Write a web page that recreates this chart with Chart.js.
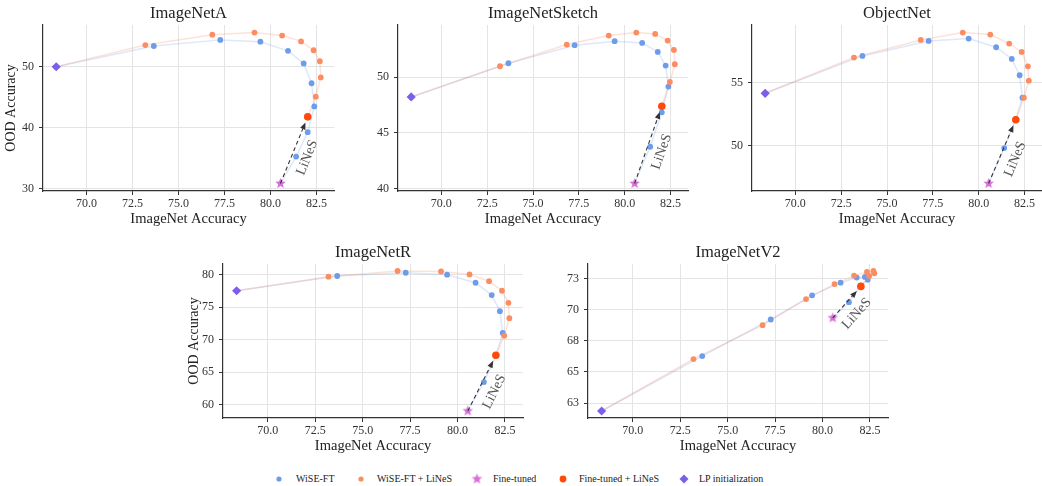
<!DOCTYPE html>
<html>
<head>
<meta charset="utf-8">
<script src="https://cdn.jsdelivr.net/npm/chart.js@4.4.1/dist/chart.umd.min.js"></script>
<style>
  body { margin: 0; background: #fff; width: 1042px; height: 486px; overflow: hidden; position: relative; font-family: "Liberation Serif", serif; }
  canvas.plot { position: absolute; }
  .mk { position: absolute; }
  .lg { position: absolute; font-size: 10px; line-height: 12px; color: #222; white-space: nowrap; }
</style>
</head>
<body>
<canvas id="pA" class="plot" width="339" height="232" style="left:0px;top:0px"></canvas>
<canvas id="pSketch" class="plot" width="325" height="232" style="left:368px;top:0px"></canvas>
<canvas id="pObj" class="plot" width="325" height="232" style="left:722px;top:0px"></canvas>
<canvas id="pR" class="plot" width="345" height="220" style="left:183px;top:239px"></canvas>
<canvas id="pV2" class="plot" width="335" height="220" style="left:558px;top:239px"></canvas>

<canvas class="mk" id="lg0" width="12" height="12" style="left:273px;top:473px"></canvas>
<span class="lg" style="left:296px;top:473px">WiSE-FT</span>
<canvas class="mk" id="lg1" width="12" height="12" style="left:355px;top:473px"></canvas>
<span class="lg" style="left:377px;top:473px">WiSE-FT + LiNeS</span>
<canvas class="mk" id="lg2" width="12" height="12" style="left:471px;top:473px"></canvas>
<span class="lg" style="left:493px;top:473px">Fine-tuned</span>
<canvas class="mk" id="lg3" width="12" height="12" style="left:557px;top:473px"></canvas>
<span class="lg" style="left:579px;top:473px">Fine-tuned + LiNeS</span>
<canvas class="mk" id="lg4" width="12" height="12" style="left:678px;top:473px"></canvas>
<span class="lg" style="left:699px;top:473px">LP initialization</span>

<script>
// ImageNet accuracy (x), the same for every panel
var lpX = 68.36;
var ftX = 80.54;
var ftLinesX = 82.02;
var wiseX = [73.66, 77.27, 79.45, 80.95, 81.80, 82.23, 82.38, 82.02, 81.39];
var linesX = [73.20, 76.84, 79.13, 80.63, 81.66, 82.34, 82.68, 82.73, 82.46];

// OOD accuracy (y), one entry per panel
var panels = ['ImageNetA', 'ImageNetSketch', 'ObjectNet', 'ImageNetR', 'ImageNetV2'];
var lpY = [50.0, 48.23, 54.15, 77.53, 61.86];
var ftY = [30.9, 40.45, 46.97, 59.0, 69.35];
var ftLinesY = [41.8, 47.39, 52.05, 67.58, 71.88];

var wiseA = [53.4, 54.4, 54.1, 52.6, 50.55, 47.3, 43.5, 39.3, 35.3];
var linesA = [53.55, 55.25, 55.6, 55.1, 54.15, 52.7, 50.9, 48.25, 45.1];
var wiseSketch = [51.26, 52.88, 53.24, 53.09, 52.28, 51.05, 49.16, 46.85, 43.75];
var linesSketch = [50.99, 52.94, 53.75, 54.02, 53.9, 53.3, 52.46, 51.17, 49.58];
var wiseObj = [57.13, 58.32, 58.51, 57.82, 56.89, 55.59, 53.8, 52.1, 49.79];
var linesObj = [57.0, 58.4, 58.99, 58.83, 58.11, 57.45, 56.3, 55.16, 53.8];
var wiseR = [79.8, 80.3, 80.0, 78.76, 76.86, 74.38, 71.03, 67.5, 63.45];
var linesR = [79.7, 80.57, 80.5, 80.05, 79.0, 77.53, 75.67, 73.3, 70.6];
var wiseV2 = [66.28, 69.22, 71.16, 72.18, 72.59, 72.64, 72.42, 71.95, 70.61];
var linesV2 = [66.04, 68.76, 70.86, 72.07, 72.75, 73.04, 73.12, 72.93, 72.72];

// tick labels
var xTicks = [70, 72.5, 75, 77.5, 80, 82.5];
var yTicksA = [30, 40, 50];
var yTicksSketch = [40, 45, 50];
var yTicksObj = [50, 55];
var yTicksR = [60, 65, 70, 75, 80];
var yTicksV2 = [62.5, 65, 67.5, 70, 72.5];

var BLUE = '#6d9ceb', ORANGE = '#fc8d62', RED = '#ff4a0a', ORCHID = '#d672d6', PURPLE = '#7b5fe8';
var FONT = '"Liberation Serif", serif';

function starImage(color, r) {
  var c = document.createElement('canvas');
  var s = Math.ceil(r * 2) + 2;
  c.width = c.height = s;
  var g = c.getContext('2d');
  g.fillStyle = color;
  g.beginPath();
  for (var i = 0; i < 10; i++) {
    var a = -Math.PI / 2 + i * Math.PI / 5;
    var rr = i % 2 ? r * 0.45 : r;
    g.lineTo(s / 2 + rr * Math.cos(a), s / 2 + rr * Math.sin(a));
  }
  g.closePath();
  g.fill();
  return c;
}
var star = starImage(ORCHID, 5.5);

function padRange(vals) {
  var lo = Math.min.apply(null, vals), hi = Math.max.apply(null, vals);
  var m = (hi - lo) * 0.05;
  return [lo - m, hi + m];
}

function pts(xs, ys) {
  return xs.map(function (x, k) { return { x: x, y: ys[k] }; });
}

function makePanel(id, i, wise, lines, yTicks, yw, yLabel, yFmt) {
  var lp = { x: lpX, y: lpY[i] }, ft = { x: ftX, y: ftY[i] }, ftl = { x: ftLinesX, y: ftLinesY[i] };
  var xr = padRange([lpX, ftX, ftLinesX].concat(wiseX, linesX));
  var yr = padRange([lpY[i], ftY[i], ftLinesY[i]].concat(wise, lines));

  // panel title, centred over the plot area
  var title = {
    id: 'panelTitle',
    afterDraw: function (chart) {
      var a = chart.chartArea, c = chart.ctx;
      c.save();
      c.font = '16.5px ' + FONT;
      c.fillStyle = '#222';
      c.textAlign = 'center'; c.textBaseline = 'middle';
      c.fillText(panels[i], (a.left + a.right) / 2, a.top - 11);
      c.restore();
    }
  };

  // dashed arrow from fine-tuned to fine-tuned + LiNeS, with its label
  var arrow = {
    id: 'linesArrow',
    afterDatasetsDraw: function (chart) {
      var xs = chart.scales.x, ys = chart.scales.y, c = chart.ctx;
      var x0 = xs.getPixelForValue(ft.x), y0 = ys.getPixelForValue(ft.y);
      var x1 = xs.getPixelForValue(ftl.x), y1 = ys.getPixelForValue(ftl.y);
      var dx = x1 - x0, dy = y1 - y0, len = Math.hypot(dx, dy);
      var ux = dx / len, uy = dy / len;
      var tx = x1 - ux * 6, ty = y1 - uy * 6;
      var hl = 7, hw = 2.8;
      c.save();
      c.strokeStyle = '#333'; c.fillStyle = '#333'; c.lineWidth = 1.1;
      c.setLineDash([4, 3]);
      c.beginPath(); c.moveTo(x0, y0); c.lineTo(tx - ux * hl, ty - uy * hl); c.stroke();
      c.setLineDash([]);
      c.beginPath();
      c.moveTo(tx, ty);
      c.lineTo(tx - ux * hl - uy * hw, ty - uy * hl + ux * hw);
      c.lineTo(tx - ux * hl + uy * hw, ty - uy * hl - ux * hw);
      c.closePath(); c.fill();
      var mx = (x0 + tx) / 2 + ux * 1 - uy * 15, my = (y0 + ty) / 2 + uy * 1 + ux * 15;
      c.translate(mx, my);
      c.rotate(Math.atan2(dy, dx));
      c.font = '14px ' + FONT;
      c.fillStyle = '#555';
      c.textAlign = 'center'; c.textBaseline = 'middle';
      c.fillText('LiNeS', 0, 0);
      c.restore();
    }
  };

  return new Chart(document.getElementById(id), {
    type: 'scatter',
    data: {
      datasets: [
        { label: 'WiSE-FT path', data: [lp].concat(pts(wiseX, wise), [ft]), showLine: true,
          borderColor: 'rgba(100,149,237,0.22)', borderWidth: 1.5, pointRadius: 0, order: 10 },
        { label: 'LiNeS path', data: [lp].concat(pts(linesX, lines), [ftl]), showLine: true,
          borderColor: 'rgba(252,141,98,0.25)', borderWidth: 1.5, pointRadius: 0, order: 9 },
        { label: 'WiSE-FT', data: pts(wiseX, wise), backgroundColor: BLUE, borderWidth: 0,
          pointRadius: 2.9, order: 6 },
        { label: 'WiSE-FT + LiNeS', data: pts(linesX, lines), backgroundColor: ORANGE, borderWidth: 0,
          pointRadius: 2.9, order: 5 },
        { label: 'Fine-tuned', data: [ft], pointStyle: star, order: 4 },
        { label: 'LP initialization', data: [lp], pointStyle: 'rectRot', backgroundColor: PURPLE,
          borderWidth: 0, pointRadius: 4.6, order: 3 },
        { label: 'Fine-tuned + LiNeS', data: [ftl], backgroundColor: RED, borderWidth: 0,
          pointRadius: 3.8, order: 2 }
      ]
    },
    options: {
      responsive: false,
      animation: false,
      layout: { padding: { top: 25, left: 0, right: 0, bottom: 0 } },
      plugins: {
        legend: { display: false },
        tooltip: { enabled: false }
      },
      scales: {
        x: {
          type: 'linear', min: xr[0], max: xr[1],
          afterBuildTicks: function (s) { s.ticks = xTicks.map(function (v) { return { value: v }; }); },
          afterFit: function (s) { s.height = 41; },
          ticks: { color: '#333', padding: 2, font: { family: FONT, size: 12 },
            callback: function (v) { return v.toFixed(1); } },
          grid: { color: '#e4e4e4', lineWidth: 1, tickLength: 4, tickColor: '#333' },
          border: { color: '#333', width: 1.2 },
          title: { display: true, text: 'ImageNet Accuracy', color: '#222', padding: { top: 4, bottom: 4 },
            font: { family: FONT, size: 14.5 } }
        },
        y: {
          type: 'linear', min: yr[0], max: yr[1],
          afterBuildTicks: function (s) { s.ticks = yTicks.map(function (v) { return { value: v }; }); },
          afterFit: function (s) { s.width = yw; },
          ticks: { color: '#333', padding: 5, font: { family: FONT, size: 12 }, callback: yFmt },
          grid: { color: '#e4e4e4', lineWidth: 1, tickLength: 4, tickColor: '#333' },
          border: { color: '#333', width: 1.2 },
          title: { display: yLabel, text: 'OOD Accuracy', color: '#222', padding: { top: 3, bottom: 3 },
            font: { family: FONT, size: 14 } }
        }
      }
    },
    plugins: [title, arrow]
  });
}

var intFmt = function (v) { return String(v); };
var roundFmt = function (v) { return String(Math.round(v)); };

makePanel('pA', 0, wiseA, linesA, yTicksA, 43, true, intFmt);
makePanel('pSketch', 1, wiseSketch, linesSketch, yTicksSketch, 30, false, intFmt);
makePanel('pObj', 2, wiseObj, linesObj, yTicksObj, 30, false, intFmt);
makePanel('pR', 3, wiseR, linesR, yTicksR, 40, true, intFmt);
makePanel('pV2', 4, wiseV2, linesV2, yTicksV2, 30, false, roundFmt);

// legend markers
function marker(id, kind, color, r) {
  var g = document.getElementById(id).getContext('2d');
  g.fillStyle = color;
  if (kind === 'star') { g.drawImage(star, 6 - star.width / 2, 6 - star.height / 2); return; }
  g.beginPath();
  if (kind === 'circle') g.arc(6, 6, r, 0, Math.PI * 2);
  else { g.moveTo(6, 6 - r); g.lineTo(6 + r, 6); g.lineTo(6, 6 + r); g.lineTo(6 - r, 6); g.closePath(); }
  g.fill();
}
marker('lg0', 'circle', BLUE, 2.6);
marker('lg1', 'circle', ORANGE, 2.6);
marker('lg2', 'star', ORCHID, 0);
marker('lg3', 'circle', RED, 3.4);
marker('lg4', 'diamond', PURPLE, 4.5);
</script>
</body>
</html>
